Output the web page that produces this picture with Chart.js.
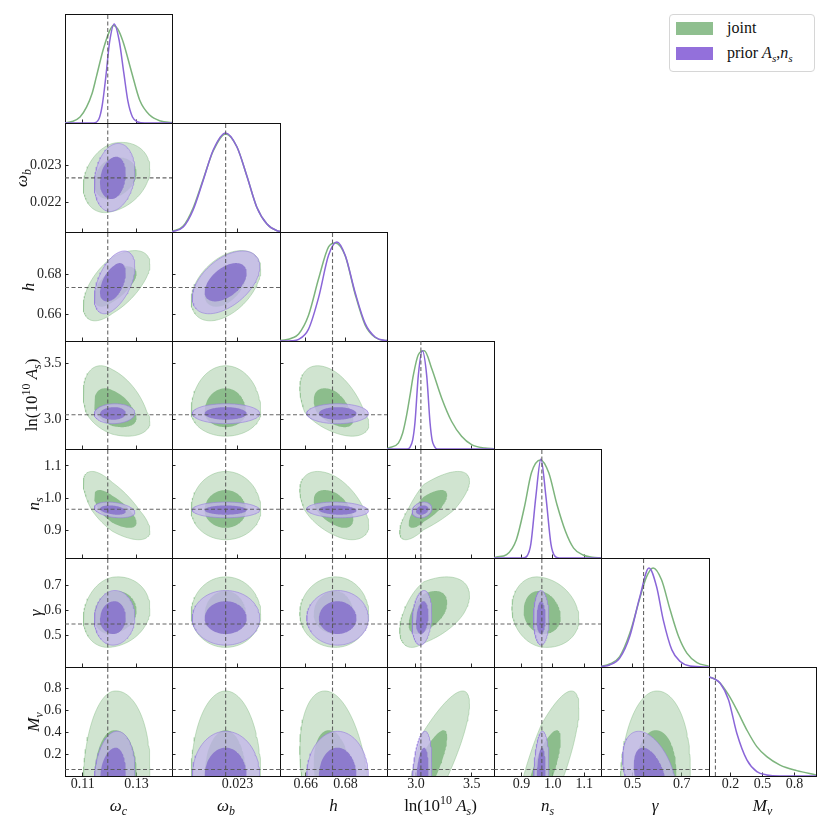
<!DOCTYPE html>
<html>
<head>
<meta charset="utf-8">
<script src="https://cdn.jsdelivr.net/npm/chart.js@4.4.0/dist/chart.umd.min.js"></script>
<style>
  body { margin: 0; width: 830px; height: 830px; position: relative; overflow: hidden; background: #fff;
         font-family: "Liberation Serif", "DejaVu Serif", serif; color: #111; }
  canvas { position: absolute; }
  .title { position: absolute; font-size: 17px; white-space: nowrap; transform: translate(-50%, -50%); }
  .title.rot { transform: translate(-50%, -50%) rotate(-90deg); }
  sub, sup { font-size: 70%; line-height: 0; }
  #legend { position: absolute; left: 669px; top: 14px; width: 144px; height: 56px;
            border: 1px solid #d6d6d6; border-radius: 4px; background: #fff; }
  .sw { position: absolute; left: 6px; width: 37px; height: 13px; }
  .lt { position: absolute; left: 57px; font-size: 16px; white-space: nowrap; }
</style>
</head>
<body>
<div id="legend">
  <div class="sw" style="top:7px;background:#8fbf8f"></div>
  <div class="lt" style="top:4px">joint</div>
  <div class="sw" style="top:32px;background:#9370db"></div>
  <div class="lt" style="top:29px">prior <i>A</i><sub><i>s</i></sub>,<i>n</i><sub><i>s</i></sub></div>
</div>
<script>
// parameters: omega_c, omega_b, h, ln(10^10 A_s), n_s, gamma, M_nu
const titles = ['<i>ω</i><sub><i>c</i></sub>', '<i>ω</i><sub><i>b</i></sub>', '<i>h</i>',
  'ln(10<sup>10</sup> <i>A</i><sub><i>s</i></sub>)', '<i>n</i><sub><i>s</i></sub>', '<i>γ</i>', '<i>M</i><sub><i>ν</i></sub>'];
const axisMin = [0.1034, 0.02119, 0.647, 2.74, 0.813, 0.372, 0.0];
const axisMax = [0.1432, 0.02417, 0.701, 3.70, 1.153, 0.811, 1.0];
const truth = [0.1193, 0.02267, 0.6735, 3.044, 0.965, 0.545, 0.06];

const xTicks = [[0.11, 0.13], [0.023], [0.66, 0.68], [3.0, 3.5], [0.9, 1.0, 1.1], [0.5, 0.7], [0.2, 0.5, 0.8]];
const xTickLabels = [['0.11', '0.13'], ['0.023'], ['0.66', '0.68'], ['3.0', '3.5'], ['0.9', '1.0', '1.1'], ['0.5', '0.7'], ['0.2', '0.5', '0.8']];
const yTicks = [[], [0.022, 0.023], [0.66, 0.68], [3.0, 3.5], [0.9, 1.0, 1.1], [0.5, 0.6, 0.7], [0.2, 0.4, 0.6, 0.8]];
const yTickLabels = [[], ['0.022', '0.023'], ['0.66', '0.68'], ['3.0', '3.5'], ['0.9', '1.0', '1.1'], ['0.5', '0.6', '0.7'], ['0.2', '0.4', '0.6', '0.8']];

// 1D marginals, [value, density relative to peak]
const jointWc = [[0.1034,0.003],[0.1060,0.015],[0.1090,0.06],[0.1114,0.16],[0.1135,0.30],[0.1151,0.47],[0.1176,0.74],[0.1200,0.93],[0.1214,0.985],[0.1230,0.95],[0.1250,0.82],[0.1281,0.52],[0.1312,0.23],[0.1349,0.08],[0.1390,0.02],[0.1432,0.004]];
const priorWc = [[0.1034,0],[0.1140,0],[0.1160,0.04],[0.1172,0.17],[0.1186,0.47],[0.1200,0.82],[0.1217,1.0],[0.1235,0.84],[0.1253,0.50],[0.1268,0.22],[0.1285,0.06],[0.1305,0.01],[0.1330,0],[0.1432,0]];
const jointWb = [[0.02119,0.004],[0.02150,0.06],[0.02177,0.24],[0.02205,0.53],[0.02233,0.82],[0.02267,0.99],[0.02298,0.86],[0.02326,0.56],[0.02353,0.25],[0.02381,0.08],[0.02409,0.012],[0.02417,0.008]];
const priorWb = [[0.02119,0.003],[0.02150,0.05],[0.02177,0.22],[0.02205,0.52],[0.02233,0.83],[0.02267,1.0],[0.02298,0.86],[0.02326,0.56],[0.02353,0.25],[0.02381,0.08],[0.02409,0.012],[0.02417,0.008]];
const jointH = [[0.647,0.005],[0.650,0.012],[0.6531,0.03],[0.6564,0.07],[0.6614,0.26],[0.6665,0.63],[0.6715,0.95],[0.6749,0.99],[0.6799,0.86],[0.6849,0.475],[0.6900,0.16],[0.6950,0.035],[0.7000,0.005],[0.701,0.004]];
const priorH = [[0.647,0],[0.6531,0.003],[0.6564,0.016],[0.6614,0.12],[0.6665,0.44],[0.6715,0.865],[0.6757,1.0],[0.6799,0.865],[0.6849,0.49],[0.6900,0.175],[0.6950,0.04],[0.7000,0.005],[0.701,0.004]];
const jointAs = [[2.74,0.003],[2.753,0.01],[2.842,0.06],[2.880,0.16],[2.917,0.35],[2.950,0.57],[2.976,0.75],[3.021,0.96],[3.075,1.0],[3.141,0.82],[3.230,0.52],[3.320,0.28],[3.409,0.13],[3.499,0.045],[3.617,0.01],[3.70,0.003]];
const priorAs = [[2.74,0],[2.92,0],[2.947,0.02],[2.970,0.09],[2.991,0.27],[3.021,0.75],[3.057,1.0],[3.096,0.75],[3.126,0.27],[3.145,0.09],[3.164,0.03],[3.19,0],[3.70,0]];
const jointNs = [[0.813,0.002],[0.821,0.01],[0.853,0.035],[0.884,0.185],[0.910,0.52],[0.932,0.86],[0.9605,0.99],[0.987,0.86],[1.013,0.54],[1.040,0.27],[1.066,0.10],[1.096,0.03],[1.125,0.008],[1.153,0.002]];
const priorNs = [[0.813,0],[0.905,0],[0.918,0.02],[0.930,0.14],[0.946,0.62],[0.962,1.0],[0.978,0.62],[0.994,0.14],[1.006,0.02],[1.02,0],[1.153,0]];
const jointGam = [[0.372,0.005],[0.407,0.03],[0.448,0.105],[0.489,0.34],[0.530,0.695],[0.557,0.91],[0.584,1.0],[0.618,0.88],[0.653,0.577],[0.687,0.31],[0.721,0.14],[0.762,0.045],[0.809,0.01]];
const priorGam = [[0.372,0.005],[0.407,0.02],[0.448,0.09],[0.489,0.31],[0.530,0.71],[0.567,1.0],[0.598,0.81],[0.625,0.476],[0.660,0.173],[0.694,0.055],[0.734,0.01],[0.811,0]];
const jointMnu = [[0,1.0],[0.05,0.98],[0.105,0.936],[0.183,0.818],[0.26,0.667],[0.354,0.464],[0.447,0.296],[0.54,0.195],[0.664,0.11],[0.82,0.054],[1.0,0.011]];
const priorMnu = [[0,1.0],[0.05,0.98],[0.105,0.936],[0.183,0.768],[0.26,0.431],[0.354,0.162],[0.447,0.044],[0.54,0.011],[0.66,0],[1.0,0]];
const jointMarg = [jointWc, jointWb, jointH, jointAs, jointNs, jointGam, jointMnu];
const priorMarg = [priorWc, priorWb, priorH, priorAs, priorNs, priorGam, priorMnu];

// 2D contours: centre, inner (68%) and outer (95%) half extents below / above, correlations
const jointC   = [0.1210, 0.02267, 0.6750, 3.070, 0.963, 0.585, 0.0];
const jointLo1 = [0.0068, 0.00058, 0.0110, 0.136, 0.056, 0.080, 0.42];
const jointHi1 = [0.0090, 0.00056, 0.0090, 0.210, 0.062, 0.093, 0.42];
const jointLo2 = [0.0108, 0.00095, 0.0180, 0.216, 0.093, 0.134, 0.78];
const jointHi2 = [0.0140, 0.00097, 0.0168, 0.410, 0.120, 0.150, 0.78];
const priorC   = [0.1216, 0.02267, 0.6760, 3.056, 0.9625, 0.568, 0.0];
const priorLo1 = [0.0052, 0.00058, 0.0094, 0.056, 0.0145, 0.063, 0.26];
const priorHi1 = [0.0044, 0.00058, 0.0096, 0.056, 0.0145, 0.069, 0.26];
const priorLo2 = [0.0073, 0.00092, 0.0155, 0.091, 0.024, 0.108, 0.41];
const priorHi2 = [0.0078, 0.00094, 0.0156, 0.086, 0.025, 0.112, 0.41];
const jointRho = [[], [0.25], [0.6, 0.45], [-0.4, 0, -0.5], [-0.7, 0, -0.5, 0.75], [0.15, 0, 0, 0.5, -0.15], [0.1, 0, -0.3, 0.85, 0.8, 0.1]];
const priorRho = [[], [0.2], [0.5, 0.5], [0.05, 0, 0], [-0.3, 0, -0.1, 0.2], [0.05, 0, 0, 0.2, 0], [0.15, 0, 0, 0.3, 0.2, -0.4]];

// layout
const colEdges = [65, 172, 280, 387, 494, 601, 709, 816];
const rowEdges = [14, 123, 232, 341, 449, 558, 667, 776];
const yTitleX = [0, 22, 29, 32, 34, 36, 34];
const NP = 7;
const fontFamily = '"Liberation Serif", "DejaVu Serif", serif';

const jointLine = '#7db47d', priorLine = '#8a66d8';
const joint2Fill = 'rgba(143,190,143,0.42)', joint1Fill = 'rgba(128,182,128,0.85)';
const prior2Fill = 'rgba(196,184,234,0.80)', prior1Fill = 'rgba(138,118,204,0.92)';
const truthColor = 'rgba(85,85,85,0.9)';

function contour(cx, cy, xl, xh, yl, yh, rho) {
  const pts = [];
  const s = Math.sqrt(1 - rho * rho);
  for (let k = 0; k <= 120; k++) {
    const t = 2 * Math.PI * k / 120;
    const u = Math.cos(t);
    const w = rho * u + s * Math.sin(t);
    pts.push({ x: cx + u * (u < 0 ? xl : xh), y: cy + w * (w < 0 ? yl : yh) });
  }
  return pts;
}

function axis(position, min, max, vals, labels, showLabels, size, drawTicks, pad) {
  return {
    type: 'linear', position: position, min: min, max: max,
    afterBuildTicks: s => { s.ticks = vals.map(v => ({ value: v })); },
    afterFit: s => {
      if (s.isHorizontal()) s.height = size; else s.width = size;
      s.paddingTop = s.paddingBottom = s.paddingLeft = s.paddingRight = 0;
    },
    grid: { drawOnChartArea: false, drawTicks: drawTicks, tickLength: -3.5, tickColor: '#111', tickWidth: 0.9 },
    border: { display: true, color: '#111', width: 1 },
    ticks: {
      display: showLabels, autoSkip: false, maxRotation: 0, minRotation: 0, padding: pad,
      font: { family: fontFamily, size: 14 }, color: '#222',
      callback: (v, i) => labels[i]
    }
  };
}

function lineSet(pts, color, width, order, extra) {
  return Object.assign({
    data: pts, borderColor: color, borderWidth: width, pointRadius: 0, fill: false, order: order
  }, extra || {});
}

function fillSet(pts, fillColor, edge, order) {
  return { data: pts, borderColor: edge, borderWidth: edge ? 0.8 : 0, backgroundColor: fillColor,
           fill: 'shape', pointRadius: 0, tension: 0, order: order };
}

function makePanel(r, c) {
  const ML = c === 0 ? 65 : 4, MR = 4, MT = 4, MB = r === NP - 1 ? 34 : 4;
  const w = colEdges[c + 1] - colEdges[c], h = rowEdges[r + 1] - rowEdges[r];
  const cv = document.createElement('canvas');
  cv.width = w + ML + MR; cv.height = h + MT + MB;
  cv.style.left = (colEdges[c] - ML) + 'px'; cv.style.top = (rowEdges[r] - MT) + 'px';
  cv.style.width = cv.width + 'px'; cv.style.height = cv.height + 'px';
  document.body.appendChild(cv);

  const diag = r === c;
  const bottomRow = r === NP - 1;
  const yMin = diag ? 0 : axisMin[r], yMax = diag ? 1.1 : axisMax[r];
  const datasets = [];
  const dash = { borderDash: [4, 2.5] };
  datasets.push(lineSet([{ x: truth[c], y: yMin }, { x: truth[c], y: yMax }], truthColor, 1.1, 0, dash));

  if (diag) {
    datasets.push(lineSet(priorMarg[c].map(p => ({ x: p[0], y: p[1] })), priorLine, 1.5, 1, { cubicInterpolationMode: 'monotone' }));
    datasets.push(lineSet(jointMarg[c].map(p => ({ x: p[0], y: p[1] })), jointLine, 1.5, 2, { cubicInterpolationMode: 'monotone' }));
  } else {
    datasets.push(lineSet([{ x: axisMin[c], y: truth[r] }, { x: axisMax[c], y: truth[r] }], truthColor, 1.1, 0, dash));
    const pr = priorRho[r][c], jr = jointRho[r][c];
    datasets.push(fillSet(contour(priorC[c], priorC[r], priorLo1[c], priorHi1[c], priorLo1[r], priorHi1[r], pr), prior1Fill, null, 1));
    datasets.push(fillSet(contour(priorC[c], priorC[r], priorLo2[c], priorHi2[c], priorLo2[r], priorHi2[r], pr), prior2Fill, 'rgba(150,125,220,0.75)', 2));
    datasets.push(fillSet(contour(jointC[c], jointC[r], jointLo1[c], jointHi1[c], jointLo1[r], jointHi1[r], jr), joint1Fill, null, 3));
    datasets.push(fillSet(contour(jointC[c], jointC[r], jointLo2[c], jointHi2[c], jointLo2[r], jointHi2[r], jr), joint2Fill, 'rgba(130,185,130,0.55)', 4));
  }

  new Chart(cv, {
    type: 'line',
    data: { datasets: datasets },
    options: {
      responsive: false, animation: false, events: [],
      layout: { padding: 0, autoPadding: false },
      plugins: { legend: { display: false }, tooltip: { enabled: false } },
      scales: {
        x: axis('bottom', axisMin[c], axisMax[c], xTicks[c], xTickLabels[c], bottomRow, MB, true, 3),
        x2: axis('top', axisMin[c], axisMax[c], diag ? [] : xTicks[c], [], false, MT, !diag, 0),
        y: axis('left', yMin, yMax, diag ? [] : yTicks[r], diag ? [] : yTickLabels[r], c === 0 && !diag, ML, !diag, 7),
        y2: axis('right', yMin, yMax, diag ? [] : yTicks[r], [], false, MR, !diag, 0)
      }
    }
  });
}

for (let r = 0; r < NP; r++) {
  for (let c = 0; c <= r; c++) makePanel(r, c);
}

// axis titles
for (let c = 0; c < NP; c++) {
  const d = document.createElement('div');
  d.className = 'title';
  d.innerHTML = titles[c];
  d.style.left = ((colEdges[c] + colEdges[c + 1]) / 2) + 'px';
  d.style.top = '806px';
  document.body.appendChild(d);
}
for (let r = 1; r < NP; r++) {
  const d = document.createElement('div');
  d.className = 'title rot';
  d.innerHTML = titles[r];
  d.style.left = yTitleX[r] + 'px';
  d.style.top = ((rowEdges[r] + rowEdges[r + 1]) / 2) + 'px';
  document.body.appendChild(d);
}
</script>
</body>
</html>
